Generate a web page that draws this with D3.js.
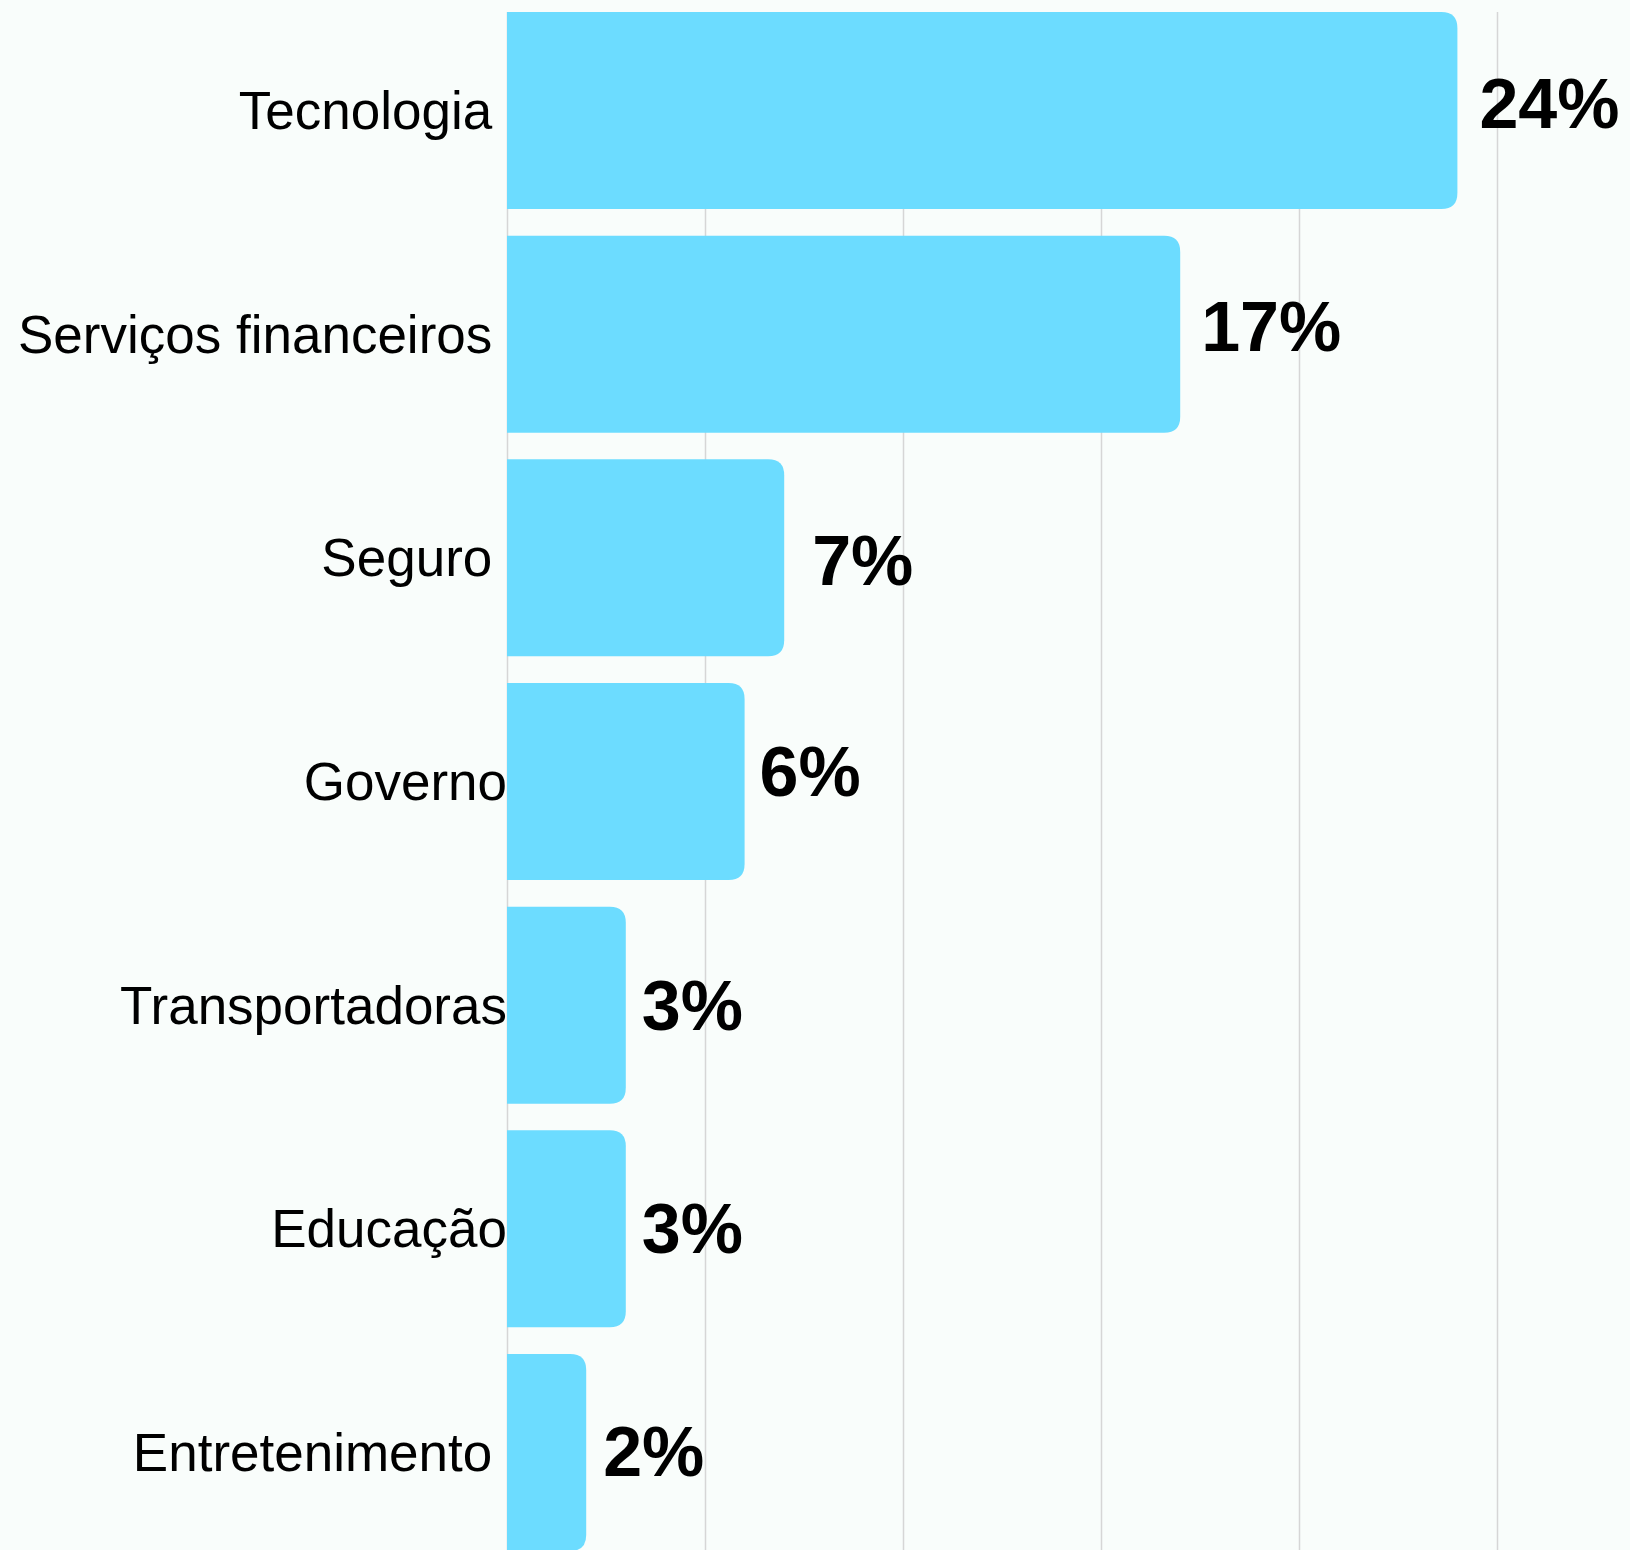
<!DOCTYPE html>
<html lang="pt">
<head>
<meta charset="utf-8">
<title>Setores</title>
<script src="https://cdn.jsdelivr.net/npm/d3@7"></script>
<style>
    html, body { margin: 0; padding: 0; background: #f9fdfb; }
    #chart-area { width: 1630px; height: 1550px; }
    .cat-label { font-family: "Liberation Sans", Arial, sans-serif; font-size: 53px; fill: #000; white-space: pre; }
    .val-label { font-family: "Liberation Sans", Arial, sans-serif; font-size: 70px; font-weight: bold; fill: #000; }
    .grid line { stroke: #d6d6d6; stroke-width: 1.5px; }
    .grid path { display: none; }
</style>
</head>
<body>
<div id="chart-area"></div>
<script>
// Data (trailing space on some labels is how the source set them)
const categories = ["Tecnologia ", "Serviços financeiros ", "Seguro ", "Governo", "Transportadoras", "Educação", "Entretenimento "];
const shares = [24, 17, 7, 6, 3, 3, 2];
const gridTicks = [0, 5, 10, 15, 20, 25];

// small hand nudges for the value labels (gap after bar, baseline offset)
const valueGap = [22, 21, 28, 15, 16, 16, 17];
const valueDrop = [17, 17, 27, 14, 25, 24, 24];

class barChart {

    constructor(parentElement) {
        this.parentElement = parentElement;
        this.data = categories.map((c, i) => ({ name: c, value: shares[i], gap: valueGap[i], drop: valueDrop[i] }));
        this.initVis();
    }

    initVis() {
        let vis = this;

        vis.width = 1630;
        vis.height = 1550;

        vis.svg = d3.select("#" + vis.parentElement)
            .append("svg")
            .attr("width", vis.width)
            .attr("height", vis.height);

        // scales
        vis.x = d3.scaleLinear()
            .domain([0, 25])
            .range([507, 1497]);

        vis.y = d3.scaleBand()
            .domain(vis.data.map(d => d.name))
            .range([12, 1551])
            .paddingInner(0.119)
            .paddingOuter(0);

        // vertical grid lines behind the bars
        vis.xGrid = d3.axisTop(vis.x)
            .tickValues(gridTicks)
            .tickSize(-(vis.height - 12))
            .tickFormat("");

        vis.svg.append("g")
            .attr("class", "grid")
            .attr("transform", "translate(0,12)")
            .call(vis.xGrid);

        vis.barGroup = vis.svg.append("g");
        vis.labelGroup = vis.svg.append("g");

        vis.wrangleData();
    }

    wrangleData() {
        let vis = this;
        vis.updateVis();
    }

    // bar with rounded corners on the right end only
    barPath(x0, y0, w, h, r) {
        r = Math.min(r, w, h / 2);
        return `M${x0},${y0}H${x0 + w - r}Q${x0 + w},${y0} ${x0 + w},${y0 + r}` +
            `V${y0 + h - r}Q${x0 + w},${y0 + h} ${x0 + w - r},${y0 + h}H${x0}Z`;
    }

    updateVis() {
        let vis = this;
        let x0 = vis.x(0);

        vis.barGroup.selectAll(".bar")
            .data(vis.data)
            .join("path")
            .attr("class", "bar")
            .attr("fill", "#6cdcff")
            .attr("d", d => vis.barPath(x0, vis.y(d.name), vis.x(d.value) - x0, vis.y.bandwidth(), 16));

        // category names, right aligned on the axis
        vis.labelGroup.selectAll(".cat-label")
            .data(vis.data)
            .join("text")
            .attr("class", "cat-label")
            .attr("text-anchor", "end")
            .attr("x", x0)
            .attr("y", d => vis.y(d.name) + vis.y.bandwidth() / 2)
            .attr("dy", "0.35em")
            .text(d => d.name);

        // percentages after each bar
        vis.labelGroup.selectAll(".val-label")
            .data(vis.data)
            .join("text")
            .attr("class", "val-label")
            .attr("x", d => vis.x(d.value) + d.gap)
            .attr("y", d => vis.y(d.name) + vis.y.bandwidth() / 2 + d.drop)
            .text(d => d.value + "%");
    }
}

new barChart("chart-area");
</script>
</body>
</html>
